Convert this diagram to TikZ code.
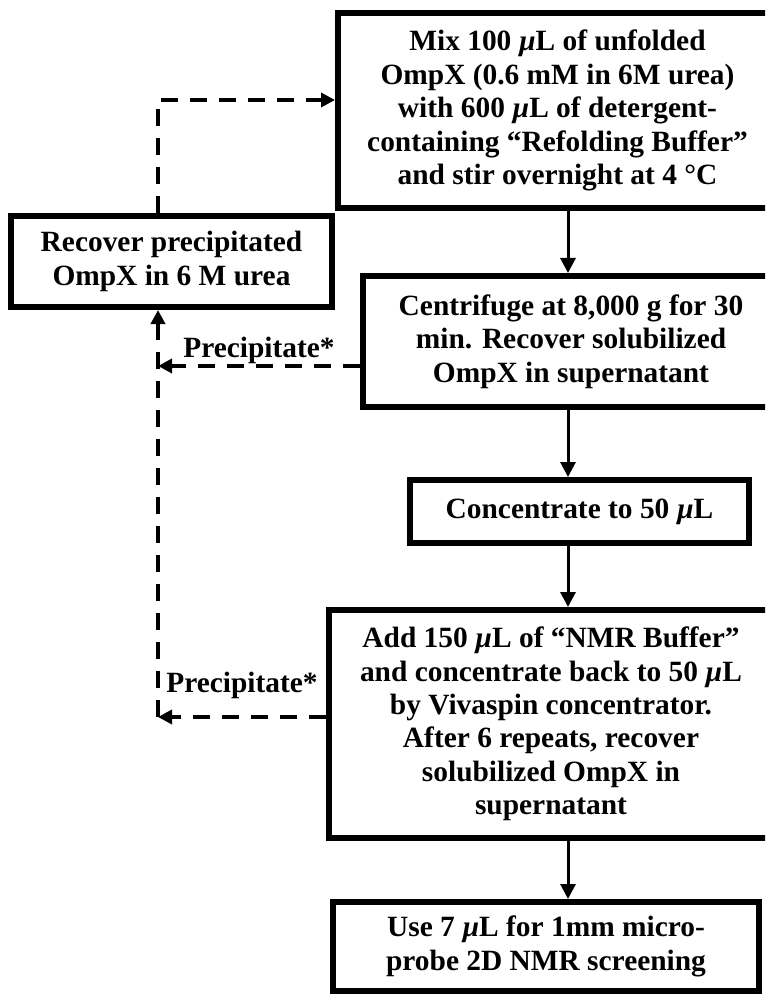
\documentclass[tikz,border=0pt]{standalone}
\usepackage{fontspec}
\setmainfont{Liberation Serif}
\usetikzlibrary{arrows.meta, positioning, calc}

\begin{document}
\begin{tikzpicture}[
        x=0.5pt, y=-0.5pt,
        box/.style={rectangle, draw=black, line width=3pt, align=center, inner sep=0pt, font=\bfseries\fontsize{14.7}{16.7}\selectfont},
        lbl/.style={font=\bfseries\fontsize{14.7}{16.7}\selectfont, inner sep=0pt},
        arrow/.style={-{Triangle[length=7.5pt, width=7.5pt]}, line width=1.5pt},
        dasharrow/.style={-{Triangle[length=7pt, width=7pt]}, line width=2pt, dash pattern=on 8.5pt off 6pt}
    ]
        \clip (0,0) rectangle (765,994);

        % Main flow
        \node[box, minimum width=219.5pt, minimum height=97.5pt] (mix) at (557.5,110.5) {Mix 100 \textit{µ}L of unfolded\\OmpX (0.6 mM in 6M urea)\\with 600 \textit{µ}L of detergent-\\containing “Refolding Buffer”\\and stir overnight at 4 °C};
        \node[box, minimum width=208pt, minimum height=65.5pt] (cent) at (571,341.5) {Centrifuge at 8,000 g for 30\\min. Recover solubilized\\OmpX in supernatant};
        \node[box, minimum width=169.5pt, minimum height=31.5pt] (conc) at (579.5,511.5) {Concentrate to 50 \textit{µ}L};
        \node[box, minimum width=222pt, minimum height=114pt] (add) at (551,724) {Add 150 \textit{µ}L of “NMR Buffer”\\and concentrate back to 50 \textit{µ}L\\by Vivaspin concentrator.\\After 6 repeats, recover\\solubilized OmpX in\\supernatant};
        \node[box, minimum width=213pt, minimum height=44.5pt] (use) at (546,946.5) {Use 7 \textit{µ}L for 1mm micro-\\probe 2D NMR screening};

        % Recycling
        \node[box, minimum width=160.5pt, minimum height=45.5pt] (recover) at (171.5,261.5) {Recover precipitated\\OmpX in 6 M urea};

        \coordinate (col) at (568,0);
        \coordinate (back) at (158,100);
        \coordinate (p1) at (158,366);
        \coordinate (p2) at (158,717);

        \draw[arrow] (mix.south -| col) -- (cent.north -| col);
        \draw[arrow] (cent.south -| col) -- (conc.north -| col);
        \draw[arrow] (conc.south -| col) -- (add.north -| col);
        \draw[arrow] (add.south -| col) -- (use.north -| col);

        \draw[dasharrow] (recover.north -| back) -- (back) -- (back -| mix.west);
        \draw[dasharrow] (cent.west |- p1) -- node[lbl, above=0pt] {Precipitate*} (p1);
        \draw[dasharrow] (add.west |- p2) -- node[lbl, above=8pt] {Precipitate*} (p2);
        \draw[dasharrow] (p2) -- (recover.south -| p2);
    \end{tikzpicture}
\end{document}
